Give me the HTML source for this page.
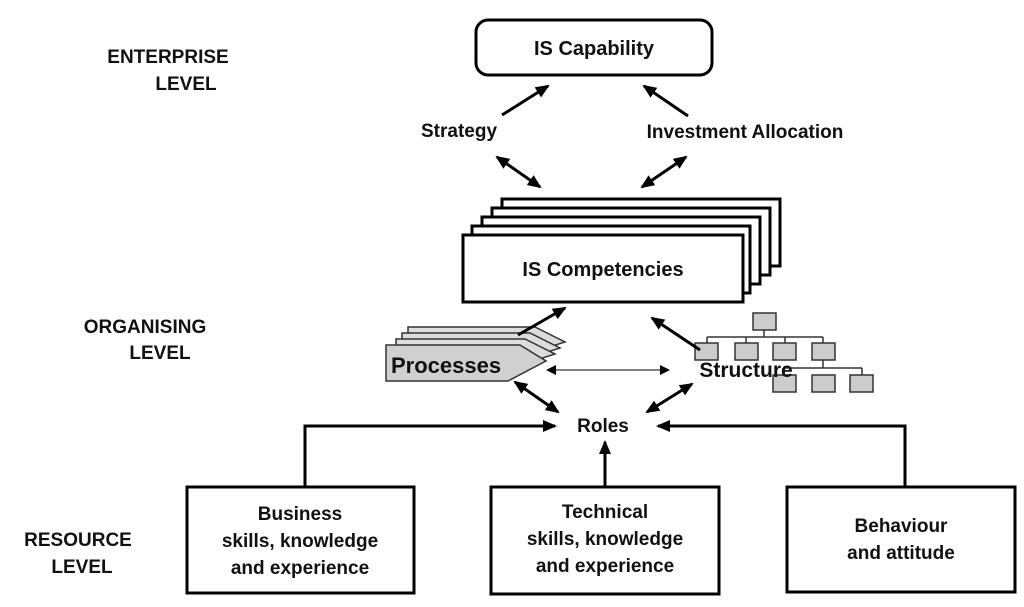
<!DOCTYPE html>
<html><head><meta charset="utf-8"><style>
body{margin:0;background:#fff;}
svg text{font-family:"Liberation Sans",sans-serif;font-weight:bold;fill:#111;}
</style></head><body>
<svg width="1024" height="602" viewBox="0 0 1024 602" xmlns="http://www.w3.org/2000/svg">
<defs>
<marker id="a" markerWidth="10" markerHeight="10" refX="8" refY="5" orient="auto-start-reverse" markerUnits="userSpaceOnUse"><path d="M0,0 L10,5 L0,10 z" fill="#000"/></marker>
<marker id="b" markerWidth="14" markerHeight="12" refX="12" refY="6" orient="auto-start-reverse" markerUnits="userSpaceOnUse"><path d="M0,0 L14,6 L0,12 z" fill="#000"/></marker>
</defs>
<text x="168" y="63" font-size="19" text-anchor="middle">ENTERPRISE</text>
<text x="186" y="90" font-size="19" text-anchor="middle">LEVEL</text>
<text x="145" y="333" font-size="19" text-anchor="middle">ORGANISING</text>
<text x="160" y="359" font-size="19" text-anchor="middle">LEVEL</text>
<text x="78" y="546" font-size="19" text-anchor="middle">RESOURCE</text>
<text x="82" y="573" font-size="19" text-anchor="middle">LEVEL</text>

<rect x="476" y="20" width="236" height="55" rx="12" fill="#fff" stroke="#000" stroke-width="3"/>
<text x="594" y="55" font-size="20" text-anchor="middle">IS Capability</text>
<text x="459" y="137" font-size="19" text-anchor="middle">Strategy</text>
<text x="745" y="138" font-size="19" text-anchor="middle">Investment Allocation</text>
<line x1="502" y1="115" x2="548" y2="86" stroke="#000" stroke-width="3" marker-end="url(#b)"/>
<line x1="688" y1="116" x2="644" y2="86" stroke="#000" stroke-width="3" marker-end="url(#b)"/>
<line x1="497" y1="157" x2="540" y2="187" stroke="#000" stroke-width="3" marker-start="url(#b)" marker-end="url(#b)"/>
<line x1="686" y1="157" x2="642" y2="187" stroke="#000" stroke-width="3" marker-start="url(#b)" marker-end="url(#b)"/>

<g fill="#fff" stroke="#000" stroke-width="3">
<rect x="502" y="199" width="278" height="67"/>
<rect x="492" y="208" width="278" height="67"/>
<rect x="482" y="217" width="278" height="67"/>
<rect x="472" y="226" width="278" height="67"/>
<rect x="463" y="235" width="280" height="67"/>
</g>
<text x="603" y="276" font-size="20" text-anchor="middle">IS Competencies</text>

<g stroke="#333" stroke-width="1.5" fill="#ddd">
<path d="M408,327 L535,327 L565,342 L540,350 L408,350z"/>
<path d="M402,333 L530,333 L560,348 L535,356 L402,356z"/>
<path d="M396,339 L525,339 L555,354 L530,362 L396,362z"/>
<path d="M386,345 L520,345 L546,361 L508,381 L386,381z" fill="#d0d0d0"/>
</g>
<text x="391" y="373" font-size="22">Processes</text>
<line x1="548" y1="370" x2="668" y2="370" stroke="#000" stroke-width="1" marker-start="url(#a)" marker-end="url(#a)"/>

<g stroke="#333" stroke-width="1.5" fill="#ccc">
<path d="M764,330 V337 M707,337 H823 M707,337V343 M746,337V343 M785,337V343 M823,337V343 M823,360V368 M784,368H862 M784,368V375 M862,368V375" fill="none"/>
<rect x="753" y="313" width="23" height="17"/>
<rect x="695" y="343" width="23" height="17"/>
<rect x="735" y="343" width="23" height="17"/>
<rect x="773" y="343" width="23" height="17"/>
<rect x="812" y="343" width="23" height="17"/>
<rect x="773" y="375" width="23" height="17"/>
<rect x="812" y="375" width="23" height="17"/>
<rect x="850" y="375" width="23" height="17"/>
</g>
<text x="746" y="377" font-size="21" text-anchor="middle">Structure</text>

<line x1="518" y1="335" x2="565" y2="308" stroke="#000" stroke-width="3" marker-end="url(#b)"/>
<line x1="700" y1="350" x2="652" y2="318" stroke="#000" stroke-width="3" marker-end="url(#b)"/>
<line x1="515" y1="382" x2="558" y2="412" stroke="#000" stroke-width="3" marker-start="url(#b)" marker-end="url(#b)"/>
<line x1="692" y1="384" x2="647" y2="412" stroke="#000" stroke-width="3" marker-start="url(#b)" marker-end="url(#b)"/>

<text x="603" y="432" font-size="19" text-anchor="middle">Roles</text>
<path d="M305,487 V426 H555" fill="none" stroke="#000" stroke-width="3" marker-end="url(#b)"/>
<path d="M905,487 V426 H658" fill="none" stroke="#000" stroke-width="3" marker-end="url(#b)"/>
<line x1="605" y1="487" x2="605" y2="442" stroke="#000" stroke-width="3" marker-end="url(#b)"/>

<g fill="#fff" stroke="#000" stroke-width="3">
<rect x="187" y="487" width="227" height="106"/>
<rect x="491" y="487" width="228" height="107"/>
<rect x="787" y="487" width="228" height="105"/>
</g>
<g font-size="19" text-anchor="middle">
<text x="300" y="520">Business</text>
<text x="300" y="547">skills, knowledge</text>
<text x="300" y="574">and experience</text>
<text x="605" y="518">Technical</text>
<text x="605" y="545">skills, knowledge</text>
<text x="605" y="572">and experience</text>
<text x="901" y="532">Behaviour</text>
<text x="901" y="559">and attitude</text>
</g>
</svg>
</body></html>
